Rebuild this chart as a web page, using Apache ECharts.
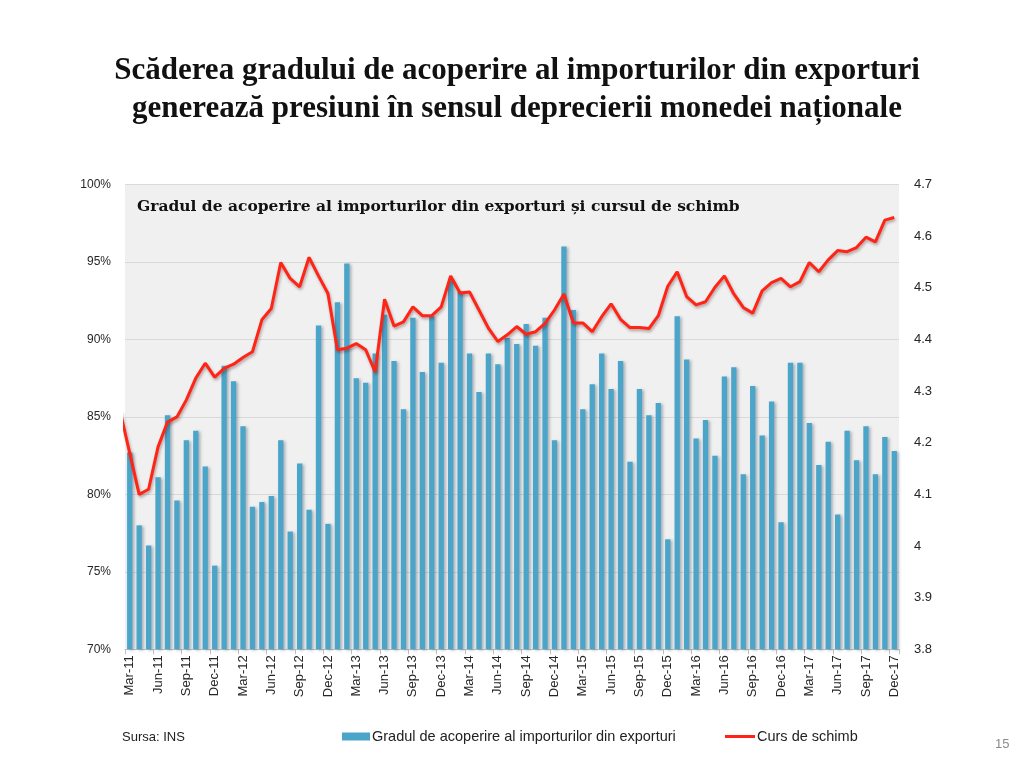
<!DOCTYPE html>
<html>
<head>
<meta charset="utf-8">
<script src="https://cdn.jsdelivr.net/npm/echarts@6/dist/echarts.min.js"></script>
<style>
  html, body { margin: 0; padding: 0; background: #ffffff; }
  #chart { width: 1024px; height: 768px; }
</style>
</head>
<body>
<div id="chart"></div>
<script>
// Categories (Feb-11 is only partly visible at the left edge; axis starts at Mar-11)
const categories = [
  'Feb-11','Mar-11','Apr-11','May-11','Jun-11','Jul-11','Aug-11','Sep-11','Oct-11','Nov-11','Dec-11',
  'Jan-12','Feb-12','Mar-12','Apr-12','May-12','Jun-12','Jul-12','Aug-12','Sep-12','Oct-12','Nov-12','Dec-12',
  'Jan-13','Feb-13','Mar-13','Apr-13','May-13','Jun-13','Jul-13','Aug-13','Sep-13','Oct-13','Nov-13','Dec-13',
  'Jan-14','Feb-14','Mar-14','Apr-14','May-14','Jun-14','Jul-14','Aug-14','Sep-14','Oct-14','Nov-14','Dec-14',
  'Jan-15','Feb-15','Mar-15','Apr-15','May-15','Jun-15','Jul-15','Aug-15','Sep-15','Oct-15','Nov-15','Dec-15',
  'Jan-16','Feb-16','Mar-16','Apr-16','May-16','Jun-16','Jul-16','Aug-16','Sep-16','Oct-16','Nov-16','Dec-16',
  'Jan-17','Feb-17','Mar-17','Apr-17','May-17','Jun-17','Jul-17','Aug-17','Sep-17','Oct-17','Nov-17','Dec-17'
];

// Gradul de acoperire al importurilor din exporturi (%)
const coverage = [
  null,
  82.7, 78.0, 76.7, 81.1, 85.1, 79.6, 83.5, 84.1, 81.8, 75.4,
  88.3, 87.3, 84.4, 79.2, 79.5, 79.9, 83.5, 77.6, 82.0, 79.0, 90.9, 78.1,
  92.4, 94.9, 87.5, 87.2, 89.1, 91.6, 88.6, 85.5, 91.4, 87.9, 91.5, 88.5,
  93.8, 93.1, 89.1, 86.6, 89.1, 88.4, 90.1, 89.7, 91.0, 89.6, 91.4, 83.5,
  96.0, 91.9, 85.5, 87.1, 89.1, 86.8, 88.6, 82.1, 86.8, 85.1, 85.9, 77.1,
  91.5, 88.7, 83.6, 84.8, 82.5, 87.6, 88.2, 81.3, 87.0, 83.8, 86.0, 78.2,
  88.5, 88.5, 84.6, 81.9, 83.4, 78.7, 84.1, 82.2, 84.4, 81.3, 83.7, 82.8
];

// Curs de schimb (RON/EUR)
const exchangeRate = [
  4.26,
  4.18, 4.100, 4.110, 4.192, 4.240, 4.250, 4.283, 4.325, 4.354, 4.327,
  4.344, 4.352, 4.365, 4.376, 4.438, 4.460, 4.549, 4.518, 4.502, 4.559, 4.523, 4.489,
  4.380, 4.383, 4.392, 4.380, 4.337, 4.478, 4.426, 4.434, 4.463, 4.446, 4.446, 4.463,
  4.523, 4.490, 4.492, 4.457, 4.422, 4.396, 4.409, 4.425, 4.410, 4.415, 4.431, 4.457,
  4.488, 4.432, 4.432, 4.415, 4.444, 4.469, 4.439, 4.423, 4.423, 4.421, 4.446, 4.503,
  4.531, 4.483, 4.467, 4.473, 4.501, 4.523, 4.488, 4.462, 4.451, 4.494, 4.510, 4.518,
  4.502, 4.512, 4.549, 4.531, 4.554, 4.572, 4.570, 4.578, 4.598, 4.589, 4.631, 4.636
];

const chart = echarts.init(document.getElementById('chart'));
const sans = 'Liberation Sans';
const serif = 'Liberation Serif';

chart.setOption({
  animation: false,
  backgroundColor: '#ffffff',
  title: [
    {
      text: 'Scăderea gradului de acoperire al importurilor din exporturi\ngenerează presiuni în sensul deprecierii monedei naționale',
      left: 512, top: 47, textAlign: 'center',
      textStyle: { fontFamily: serif, fontWeight: 'bold', fontSize: 31, lineHeight: 38, color: '#111111' }
    },
    {
      text: 'Gradul de acoperire al importurilor din exporturi și cursul de schimb',
      left: 132, top: 194,
      textStyle: { fontFamily: 'DejaVu Serif', fontWeight: 'bold', fontSize: 15.5, color: '#111111' }
    }
  ],
  grid: {
    left: 125, right: 125, top: 184.5, bottom: 118.7,
    show: true, backgroundColor: '#F0F0F0', borderWidth: 0
  },
  legend: [
    {
      left: 337, top: 724,
      itemWidth: 28, itemHeight: 8,
      textStyle: { fontFamily: sans, fontSize: 14.5, color: '#222222', padding: [0, 0, 0, -3] },
      data: [{ name: 'Gradul de acoperire al importurilor din exporturi', icon: 'rect' }]
    },
    {
      left: 720, top: 724,
      itemWidth: 30, itemHeight: 3,
      textStyle: { fontFamily: sans, fontSize: 14.5, color: '#222222', padding: [0, 0, 0, -3] },
      data: [{ name: 'Curs de schimb', icon: 'rect' }]
    }
  ],
  xAxis: {
    type: 'category',
    data: categories,
    min: 1,
    boundaryGap: true,
    axisLine: { show: true, lineStyle: { color: '#BFBFBF', width: 1 } },
    axisTick: { show: true, length: 5, interval: (i) => i % 3 === 1, lineStyle: { color: '#BFBFBF' } },
    axisLabel: {
      interval: (i) => i % 3 === 1,
      rotate: 90, margin: 6,
      fontFamily: sans, fontSize: 13, color: '#262626'
    },
    splitLine: { show: false }
  },
  yAxis: [
    {
      type: 'value', min: 70, max: 100, interval: 5,
      axisLine: { show: false }, axisTick: { show: false },
      axisLabel: { formatter: '{value}%', fontFamily: sans, fontSize: 12, color: '#262626', margin: 14 },
      splitLine: { show: true, lineStyle: { color: '#D9D9D9', width: 1 } }
    },
    {
      type: 'value', min: 3.8, max: 4.7, interval: 0.1,
      axisLine: { show: false }, axisTick: { show: false },
      axisLabel: {
        formatter: (v) => String(parseFloat(v.toFixed(1))),
        fontFamily: sans, fontSize: 13, color: '#262626', margin: 15
      },
      splitLine: { show: false }
    }
  ],
  series: [
    {
      name: 'Gradul de acoperire al importurilor din exporturi',
      type: 'bar',
      data: coverage,
      yAxisIndex: 0,
      barWidth: '56%',
      clip: true,
      itemStyle: {
        color: '#4BA5C9',
        shadowColor: 'rgba(40,60,80,0.35)', shadowBlur: 3, shadowOffsetX: 2, shadowOffsetY: 1
      }
    },
    {
      name: 'Curs de schimb',
      type: 'line',
      data: exchangeRate,
      yAxisIndex: 1,
      symbol: 'none',
      clip: true,
      lineStyle: {
        color: '#FF2415', width: 3,
        shadowColor: 'rgba(60,0,0,0.35)', shadowBlur: 3, shadowOffsetX: 1, shadowOffsetY: 2
      },
      itemStyle: { color: '#FF2415' }
    }
  ],
  graphic: [
    { type: 'text', left: 122, top: 731, style: { text: 'Sursa: INS', fontFamily: sans, fontSize: 13, fill: '#222222' } },
    { type: 'text', left: 995, top: 738, style: { text: '15', fontFamily: sans, fontSize: 13, fill: '#8C8C8C' } }
  ]
});
</script>
</body>
</html>
